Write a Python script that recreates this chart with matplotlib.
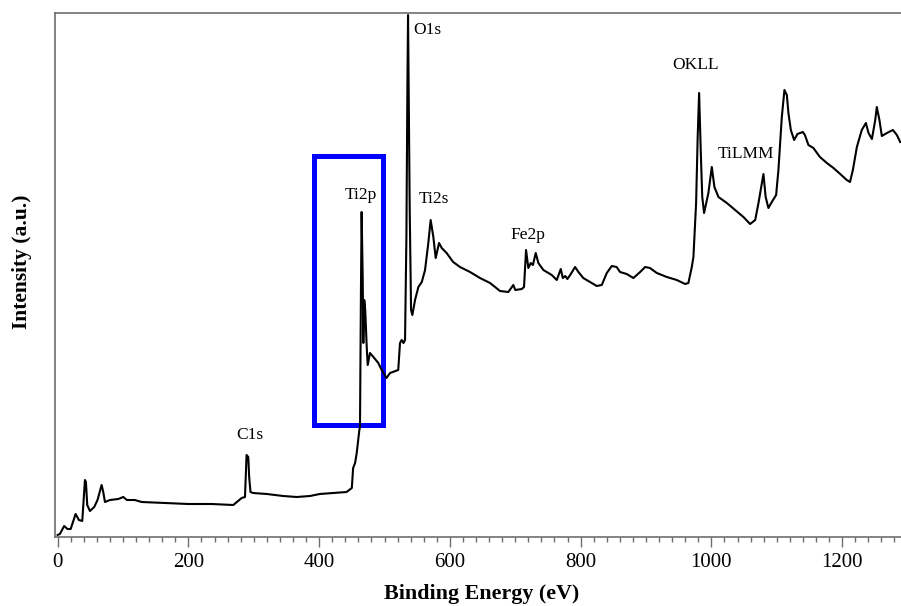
import matplotlib
matplotlib.use("Agg")
import matplotlib.pyplot as plt
from matplotlib.patches import Rectangle
from matplotlib.ticker import MultipleLocator

# === Spettro XPS survey (intensita' in unita' arbitrarie) ===
binding_energy = [
    0, 3.5, 10, 15, 20, 27.5, 32.6, 37.7, 41.8, 43.3, 45.3, 49.4, 56, 61, 67.3, 69.8,
    72.4, 80, 92.8, 100.4, 106, 118, 128.5, 164, 200, 235.6, 268.7, 281.5, 286.6, 289,
    291.6, 293, 295, 299, 320, 345, 365.7, 386, 401, 421.7, 442, 450, 452, 455, 457.5,
    461.5, 462.5, 464, 465, 466.7, 467.6, 469, 470.5, 472.8, 474.3, 477.8, 483, 490.5,
    495.7, 503, 508.4, 521, 523.7, 526.3, 529, 531.4, 533.5, 535, 536, 537, 538.5,
    540.6, 542.6, 546.7, 551.8, 557, 562, 567, 570.6, 574.7, 578.3, 583.4, 587.5, 595,
    605, 615.5, 630.8, 646, 661.4, 676.7, 689.4, 697, 700, 710, 713.4, 716.5, 720,
    723.7, 727, 731.3, 735.3, 743, 755.8, 763.5, 769.6, 772.7, 776.5, 779.7, 784,
    791.5, 796.6, 804, 814.4, 824.7, 832.3, 840, 847.6, 855, 860.3, 870.5, 880.7, 891,
    898.6, 906, 916.5, 931.8, 947, 959.8, 964.8, 970, 972.5, 976.6, 979, 981.2, 983.8,
    986, 988.8, 995.4, 1000.6, 1004.6, 1010.8, 1023.6, 1036.3, 1049, 1059.2, 1067,
    1072, 1079.6, 1083, 1087.2, 1092.4, 1099, 1102.5, 1107.7, 1111.7, 1115.4, 1117.8,
    1121.5, 1126.5, 1131.6, 1139.8, 1143, 1148.4, 1156, 1166, 1176.6, 1186.7, 1197,
    1207, 1212, 1216.4, 1222.5, 1230, 1236.3, 1240.3, 1245.5, 1250.6, 1253, 1257,
    1260.7, 1268.4, 1277.6, 1283.7, 1288.8,
]
intensity = [
    2, 3, 11, 8, 8, 23, 17, 16, 57, 55, 32, 26, 30, 37, 52, 45,
    35, 37, 38, 40, 37, 37, 35, 34, 33, 33, 32, 39, 40, 82,
    80, 60, 45, 44, 43, 41, 40, 41, 43, 44, 45, 49, 69, 74, 84,
    107, 110, 250, 325, 257, 194, 237, 227, 190, 172, 184, 180, 174,
    167, 159, 164, 167, 194, 197, 194, 197, 300, 450, 522, 450, 330,
    227, 222, 237, 250, 255, 267, 294, 317, 300, 279, 294, 289, 284,
    275, 270, 265, 259, 254, 246, 245, 252, 247, 248, 250, 287, 269,
    274, 272, 284, 274, 267, 262, 257, 268, 259, 261, 258, 262,
    270, 265, 259, 255, 251, 252, 264, 271, 270, 265, 263, 259, 265,
    270, 269, 264, 260, 257, 253, 254, 270, 280, 334, 400, 444, 384,
    340, 324, 344, 370, 350, 340, 334, 327, 320, 313, 317,
    334, 363, 340, 329, 335, 342, 367, 420, 447, 442, 424,
    407, 397, 403, 405, 402, 392, 389, 380, 374, 369, 363,
    357, 355, 367, 390, 407, 414, 404, 398, 417, 430, 417,
    401, 404, 407, 402, 395,
]

# === Etichette dei picchi ===
peak_labels = ["C1s", "Ti2p", "O1s", "Ti2s", "Fe2p", "OKLL", "TiLMM"]
label_x = [294.7, 463, 543.6, 575.5, 719, 975.6, 1052.8]
label_y = [102, 342, 507, 338, 302, 472, 383]
label_ha = ["center", "center", "left", "center", "center", "center", "center"]

SPINE_COLOR = "#6e6e6e"

plt.rcParams['font.family'] = ['Liberation Serif', 'DejaVu Serif']

fig = plt.figure(figsize=(9.01, 6.06), dpi=100)
ax = fig.add_axes([55 / 901, 1 - 537 / 606, 1 - 55 / 901, (537 - 13) / 606])

ax.plot(binding_energy, intensity, color='black', linewidth=1.5, zorder=3)

for txt, xx, yy, ha in zip(peak_labels, label_x, label_y, label_ha):
    ax.text(xx, yy, txt, ha=ha, va='center', fontsize=12.5, zorder=4)

# riquadro blu intorno al Ti2p
ax.add_patch(Rectangle((392.9, 112.5), 497 - 392.9, 381.5 - 112.5, fill=False,
                       edgecolor='#0000ff', linewidth=3.6, zorder=2))

ax.set_xlim(-4, 1290)
ax.set_ylim(0, 524)
ax.xaxis.set_major_locator(MultipleLocator(200))
ax.xaxis.set_minor_locator(MultipleLocator(20))
ax.tick_params(axis='x', which='major', direction='out', length=7.2, width=1,
               color=SPINE_COLOR, labelsize=15, pad=4)
ax.tick_params(axis='x', which='minor', direction='out', length=3.6, width=1, color=SPINE_COLOR)
ax.set_yticks([])

ax.spines['right'].set_visible(False)
for side in ['left', 'top', 'bottom']:
    ax.spines[side].set_color(SPINE_COLOR)
    ax.spines[side].set_linewidth(1.2)

fig.text(482 / 901, 1 - 594 / 606, "Binding Energy (eV)", ha='center', va='center',
         fontsize=15.8, fontweight='bold')
fig.text(22 / 901, 1 - 261.5 / 606, "Intensity (a.u.)", ha='center', va='center',
         rotation=90, fontsize=15.5, fontweight='bold')

plt.savefig("out.png", dpi=100)
plt.close()
